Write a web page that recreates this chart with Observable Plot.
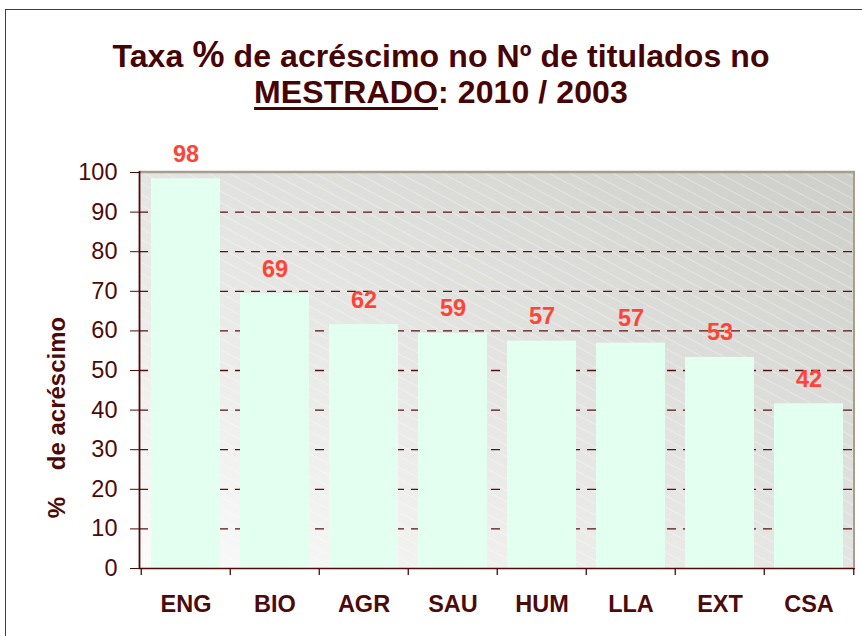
<!DOCTYPE html>
<html>
<head>
<meta charset="utf-8">
<script src="https://cdn.jsdelivr.net/npm/d3@7"></script>
<script src="https://cdn.jsdelivr.net/npm/@observablehq/plot@0.6"></script>
<style>
html,body{margin:0;padding:0;background:#fff;}
#wrap{position:relative;width:862px;height:636px;overflow:hidden;font-family:"Liberation Sans",Arial,sans-serif;}
#border{position:absolute;left:5px;top:9px;width:900px;height:700px;border-left:1px solid #6b2a2a;border-top:1px solid #6b2a2a;pointer-events:none;}
#title{height:130px;box-sizing:border-box;padding-top:37px;padding-left:20px;text-align:center;color:#460404;font-weight:bold;font-size:32px;line-height:36px;letter-spacing:0.1px;}
#title .pct{font-size:36px;}
#title u{text-decoration-thickness:3px;text-underline-offset:4px;}
#chart svg{display:block;}
</style>
</head>
<body>
<div id="wrap">
  <div id="border"></div>
  <div id="title">Taxa <span class="pct">%</span> de acréscimo no Nº de titulados no<br><u>MESTRADO</u>: 2010 / 2003</div>
  <div id="chart"></div>
</div>
<script>
const categories = ["ENG", "BIO", "AGR", "SAU", "HUM", "LLA", "EXT", "CSA"];
const values = [98.4, 69.4, 61.6, 59.4, 57.4, 56.9, 53.3, 41.6];
const yTicks = [0, 10, 20, 30, 40, 50, 60, 70, 80, 90, 100];
const yLabel = "%\u00a0\u00a0\u00a0\u00a0de acréscimo";

const data = categories.map((c, i) => ({cat: c, value: values[i]}));

const W = 862, H = 506, mL = 139, mR = 7, mT = 42, mB = 68;
const padIn = 0.22, padOut = 0.11;
const step = (W - mL - mR) / (categories.length - padIn + 2 * padOut);
const maroon = "#4d0a0a";

const background = (index, scales, vals, dims) => {
  const g = d3.create("svg:g");
  const defs = g.append("defs");
  const lg = defs.append("linearGradient").attr("id", "bgGrad")
    .attr("x1", 1).attr("y1", 0).attr("x2", 0).attr("y2", 1);
  lg.append("stop").attr("offset", "0%").attr("stop-color", "#cdcdc9");
  lg.append("stop").attr("offset", "100%").attr("stop-color", "#fbfbfb");
  const pat = defs.append("pattern").attr("id", "hatch")
    .attr("patternUnits", "userSpaceOnUse").attr("width", 10).attr("height", 10)
    .attr("patternTransform", "rotate(28)");
  pat.append("line").attr("x1", 0).attr("y1", 0.5).attr("x2", 10).attr("y2", 0.5)
    .attr("stroke", "#ffffff").attr("stroke-opacity", 0.3).attr("stroke-width", 1);
  const x = dims.marginLeft, y = dims.marginTop;
  const w = dims.width - dims.marginLeft - dims.marginRight;
  const h = dims.height - dims.marginTop - dims.marginBottom;
  g.append("rect").attr("x", x).attr("y", y).attr("width", w).attr("height", h).attr("fill", "url(#bgGrad)");
  g.append("rect").attr("x", x).attr("y", y).attr("width", w).attr("height", h).attr("fill", "url(#hatch)");
  return g.node();
};

const frameLines = (index, scales, vals, dims) => {
  const g = d3.create("svg:g");
  const x0 = dims.marginLeft, x1 = dims.width - dims.marginRight;
  const y0 = dims.marginTop, y1 = dims.height - dims.marginBottom;
  g.append("line").attr("x1", x0).attr("x2", x1).attr("y1", y0).attr("y2", y0)
    .attr("stroke", "#a89e90").attr("stroke-width", 2.5);
  g.append("line").attr("x1", x1 - 1).attr("x2", x1 - 1).attr("y1", y0).attr("y2", y1)
    .attr("stroke", "#a89e90").attr("stroke-width", 2);
  g.append("line").attr("x1", x0 + 0.5).attr("x2", x0 + 0.5).attr("y1", y0 - 1).attr("y2", y1)
    .attr("stroke", maroon).attr("stroke-width", 1.8);
  return g.node();
};

const chart = Plot.plot({
  width: W,
  height: H,
  marginLeft: mL,
  marginRight: mR,
  marginTop: mT,
  marginBottom: mB,
  style: {fontFamily: "'Liberation Sans', Arial, sans-serif", background: "transparent", overflow: "visible"},
  x: {domain: categories, paddingInner: padIn, paddingOuter: padOut},
  y: {domain: [0, 100]},
  marks: [
    background,
    Plot.gridY({ticks: yTicks.filter(t => t > 0 && t < 100), stroke: "#5a1212", strokeOpacity: 1, strokeWidth: 1.3, strokeDasharray: "9,7"}),
    Plot.barY(data, {x: "cat", y: "value", fill: "#e2fff0"}),
    Plot.text(data, {x: "cat", y: "value", text: d => d3.format(".0f")(d.value), lineAnchor: "bottom", dy: -17,
      fill: "#ff4437", fontWeight: "bold", fontSize: 23.5}),
    Plot.ruleY([0], {stroke: maroon, strokeWidth: 1.6}),
    frameLines,
    Plot.ruleX(categories, {x: d => d, dx: -step / 2, y1: 0, y2: 0, insetBottom: -7, stroke: maroon, strokeWidth: 1.3}),
    Plot.ruleX([categories[categories.length - 1]], {x: d => d, dx: step / 2, y1: 0, y2: 0, insetBottom: -7, stroke: maroon, strokeWidth: 1.3}),
    Plot.axisY({ticks: yTicks, tickSize: 9, tickPadding: 13, fontSize: 23.5, color: maroon, label: null}),
    Plot.axisX({tickSize: 0, tickPadding: 27, fontSize: 23.5, fontWeight: "bold", color: maroon, label: null}),
    Plot.text([yLabel], {text: d => d, frameAnchor: "left", textAnchor: "middle", rotate: -90, dx: -82, dy: 47,
      fill: maroon, fontWeight: "bold", fontSize: 24})
  ]
});
document.getElementById("chart").appendChild(chart);
</script>
</body>
</html>
